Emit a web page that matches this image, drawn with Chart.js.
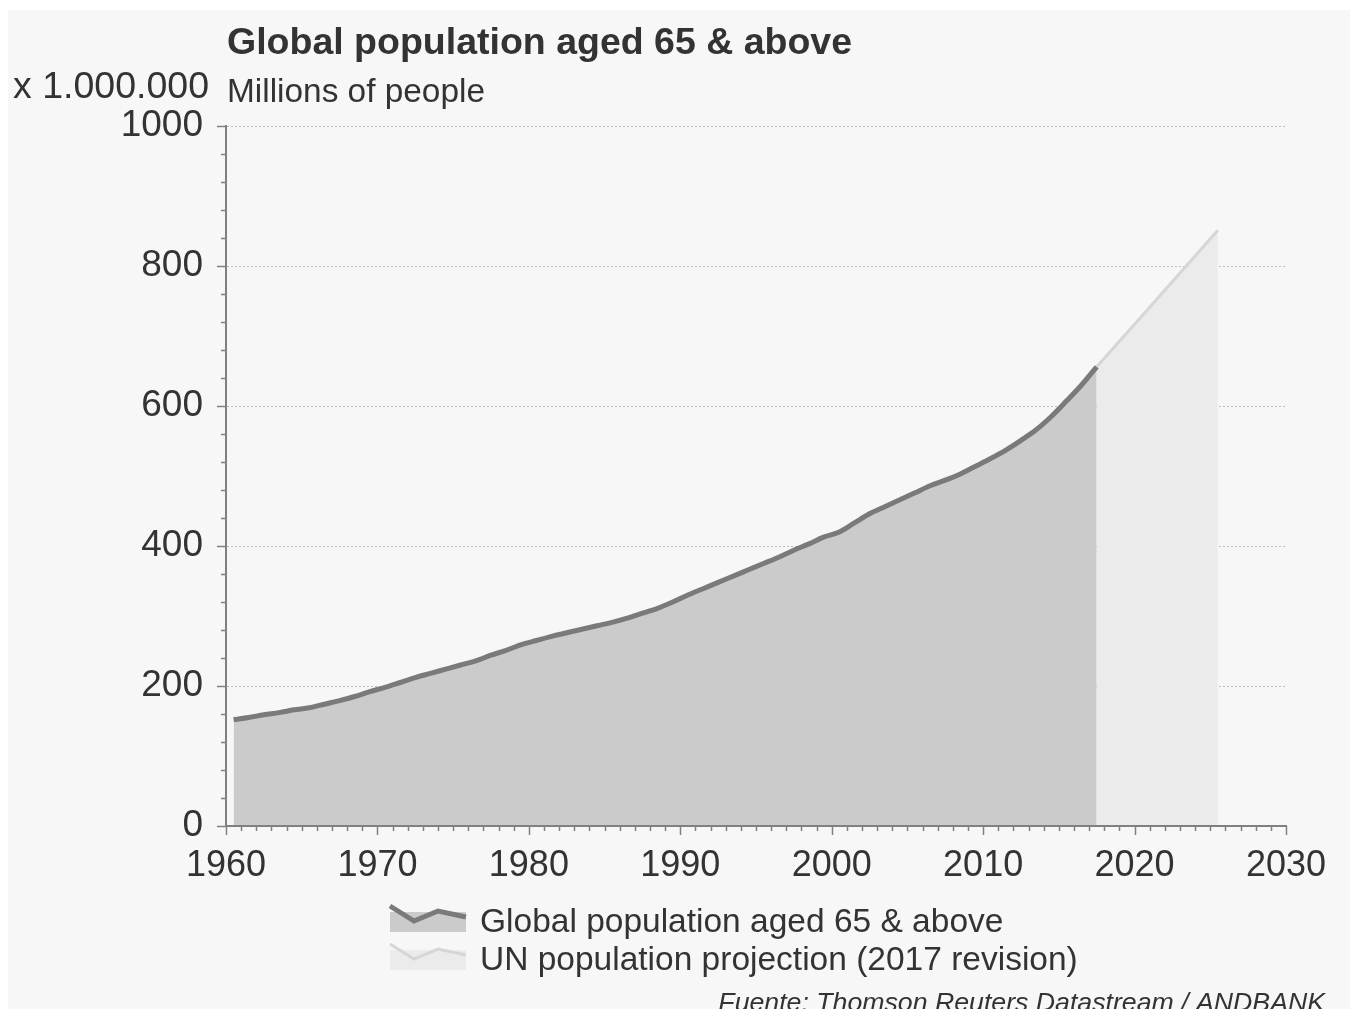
<!DOCTYPE html>
<html>
<head>
<meta charset="utf-8">
<title>Global population aged 65 & above</title>
<script src="https://cdn.jsdelivr.net/npm/chart.js@4.4.0/dist/chart.umd.min.js"></script>
<style>
  html, body { margin: 0; padding: 0; background: #fff; }
  #wrap { position: relative; width: 1353px; height: 1009px; }
</style>
</head>
<body>
<div id="wrap"><canvas id="popChart"></canvas></div>
<script>
// Global population aged 65+ (millions)
const years = [1960, 1961, 1962, 1963, 1964, 1965, 1966, 1967, 1968, 1969,
  1970, 1971, 1972, 1973, 1974, 1975, 1976, 1977, 1978, 1979,
  1980, 1981, 1982, 1983, 1984, 1985, 1986, 1987, 1988, 1989,
  1990, 1991, 1992, 1993, 1994, 1995, 1996, 1997, 1998, 1999,
  2000, 2001, 2002, 2003, 2004, 2005, 2006, 2007, 2008, 2009,
  2010, 2011, 2012, 2013, 2014, 2015, 2016, 2017];
const pop65 = [152, 155, 159, 162, 166, 169, 174, 179, 185, 192,
  198, 205, 212, 218, 224, 230, 236, 244, 251, 259,
  265, 271, 276, 281, 286, 291, 297, 304, 311, 320,
  330, 339, 348, 357, 366, 375, 384, 394, 403, 413,
  420, 433, 446, 456, 466, 476, 486, 494, 503, 514,
  525, 537, 551, 566, 585, 607, 630, 656];

// UN projection (2017 revision)
const projYears = [2017, 2020, 2025];
const projValues = [656, 729, 851];

const xTickLabels = [1960, 1970, 1980, 1990, 2000, 2010, 2020, 2030];
const yTickLabels = [0, 200, 400, 600, 800, 1000];

const FONT = "'Liberation Sans', Arial, sans-serif";
const TEXT = "#333333";
const AXIS = "#808080";

// yearly values are plotted mid-year
const toPoints = (xs, ys) => xs.map((yr, i) => ({ x: yr + 0.5, y: ys[i] }));

const decor = {
  id: "decor",
  beforeDraw(chart) {
    const ctx = chart.ctx;
    ctx.save();
    ctx.fillStyle = "#ffffff";
    ctx.fillRect(0, 0, chart.width, chart.height);
    ctx.fillStyle = "#f7f7f7";
    ctx.fillRect(8, 10, 1342, 1000);
    ctx.restore();
  },
  afterDraw(chart) {
    const ctx = chart.ctx;
    const x = chart.scales.x, y = chart.scales.y;
    const area = chart.chartArea;
    ctx.save();

    // minor / major tick marks
    ctx.strokeStyle = AXIS;
    ctx.lineWidth = 1.5;
    ctx.beginPath();
    for (let yr = x.min; yr <= x.max; yr++) {
      const px = Math.round(x.getPixelForValue(yr)) + 0.5;
      const len = yr % 10 === 0 ? 9 : 5;
      ctx.moveTo(px, area.bottom);
      ctx.lineTo(px, area.bottom + len);
    }
    for (let v = y.min; v <= y.max; v += 40) {
      const py = Math.round(y.getPixelForValue(v)) + 0.5;
      const len = v % 200 === 0 ? 9 : 5;
      ctx.moveTo(area.left, py);
      ctx.lineTo(area.left - len, py);
    }
    ctx.stroke();

    // titles
    ctx.fillStyle = TEXT;
    ctx.textBaseline = "alphabetic";
    ctx.textAlign = "left";
    ctx.font = "bold 37.5px " + FONT;
    ctx.fillText("Global population aged 65 & above", 227, 54);
    ctx.font = "37.5px " + FONT;
    ctx.fillText("x 1.000.000", 13, 98);
    ctx.font = "33.4px " + FONT;
    ctx.fillText("Millions of people", 227, 102);

    // legend
    const icon = (top, fill, stroke, w) => {
      ctx.fillStyle = fill;
      ctx.fillRect(390, top + 9, 76, 20);
      ctx.strokeStyle = stroke;
      ctx.lineWidth = w;
      ctx.lineJoin = "miter";
      ctx.beginPath();
      ctx.moveTo(390, top + 3);
      ctx.lineTo(414, top + 18);
      ctx.lineTo(438, top + 8);
      ctx.lineTo(466, top + 14);
      ctx.stroke();
    };
    icon(903, "#cbcbcb", "#7a7a7a", 5);
    icon(941, "#ebebeb", "#d6d6d6", 3);
    ctx.fillStyle = TEXT;
    ctx.font = "33.5px " + FONT;
    ctx.fillText("Global population aged 65 & above", 480, 932);
    ctx.fillText("UN population projection (2017 revision)", 480, 970);

    // source
    ctx.font = "italic 26.7px " + FONT;
    ctx.textAlign = "right";
    ctx.fillText("Fuente: Thomson Reuters Datastream / ANDBANK", 1325, 1011);
    ctx.restore();
  }
};

const chart = new Chart(document.getElementById("popChart"), {
  type: "line",
  data: {
    datasets: [
      {
        label: "Global population aged 65 & above",
        data: toPoints(years, pop65),
        borderColor: "#7a7a7a",
        backgroundColor: "#cbcbcb",
        borderWidth: 5,
        fill: "origin",
        pointRadius: 0,
        cubicInterpolationMode: "monotone"
      },
      {
        label: "UN population projection (2017 revision)",
        data: toPoints(projYears, projValues),
        borderColor: "#d6d6d6",
        backgroundColor: "#ebebeb",
        borderWidth: 3,
        fill: "origin",
        pointRadius: 0,
        tension: 0
      }
    ]
  },
  options: {
    responsive: true,
    maintainAspectRatio: false,
    animation: false,
    layout: { padding: { left: 0, right: 67, top: 126, bottom: 0 } },
    plugins: {
      legend: { display: false },
      tooltip: { enabled: false }
    },
    scales: {
      x: {
        type: "linear",
        min: xTickLabels[0],
        max: xTickLabels[xTickLabels.length - 1],
        afterBuildTicks: (s) => { s.ticks = xTickLabels.map(v => ({ value: v })); },
        afterFit: (s) => { s.height = 183; },
        ticks: {
          callback: (v) => String(v),
          font: { family: FONT, size: 36 },
          color: TEXT,
          padding: 18,
          maxRotation: 0,
          autoSkip: false
        },
        grid: { display: false, drawTicks: false },
        border: { display: true, color: AXIS, width: 2, z: 1 }
      },
      y: {
        min: yTickLabels[0],
        max: yTickLabels[yTickLabels.length - 1],
        afterBuildTicks: (s) => { s.ticks = yTickLabels.map(v => ({ value: v })); },
        afterFit: (s) => { s.width = 226; },
        ticks: {
          callback: (v) => String(v),
          font: { family: FONT, size: 37 },
          color: TEXT,
          padding: 23
        },
        grid: { color: "#bdbdbd", lineWidth: 1, drawTicks: false },
        border: { display: true, color: AXIS, width: 2, dash: [2, 2], z: 1 }
      }
    }
  },
  plugins: [decor]
});
</script>
</body>
</html>
